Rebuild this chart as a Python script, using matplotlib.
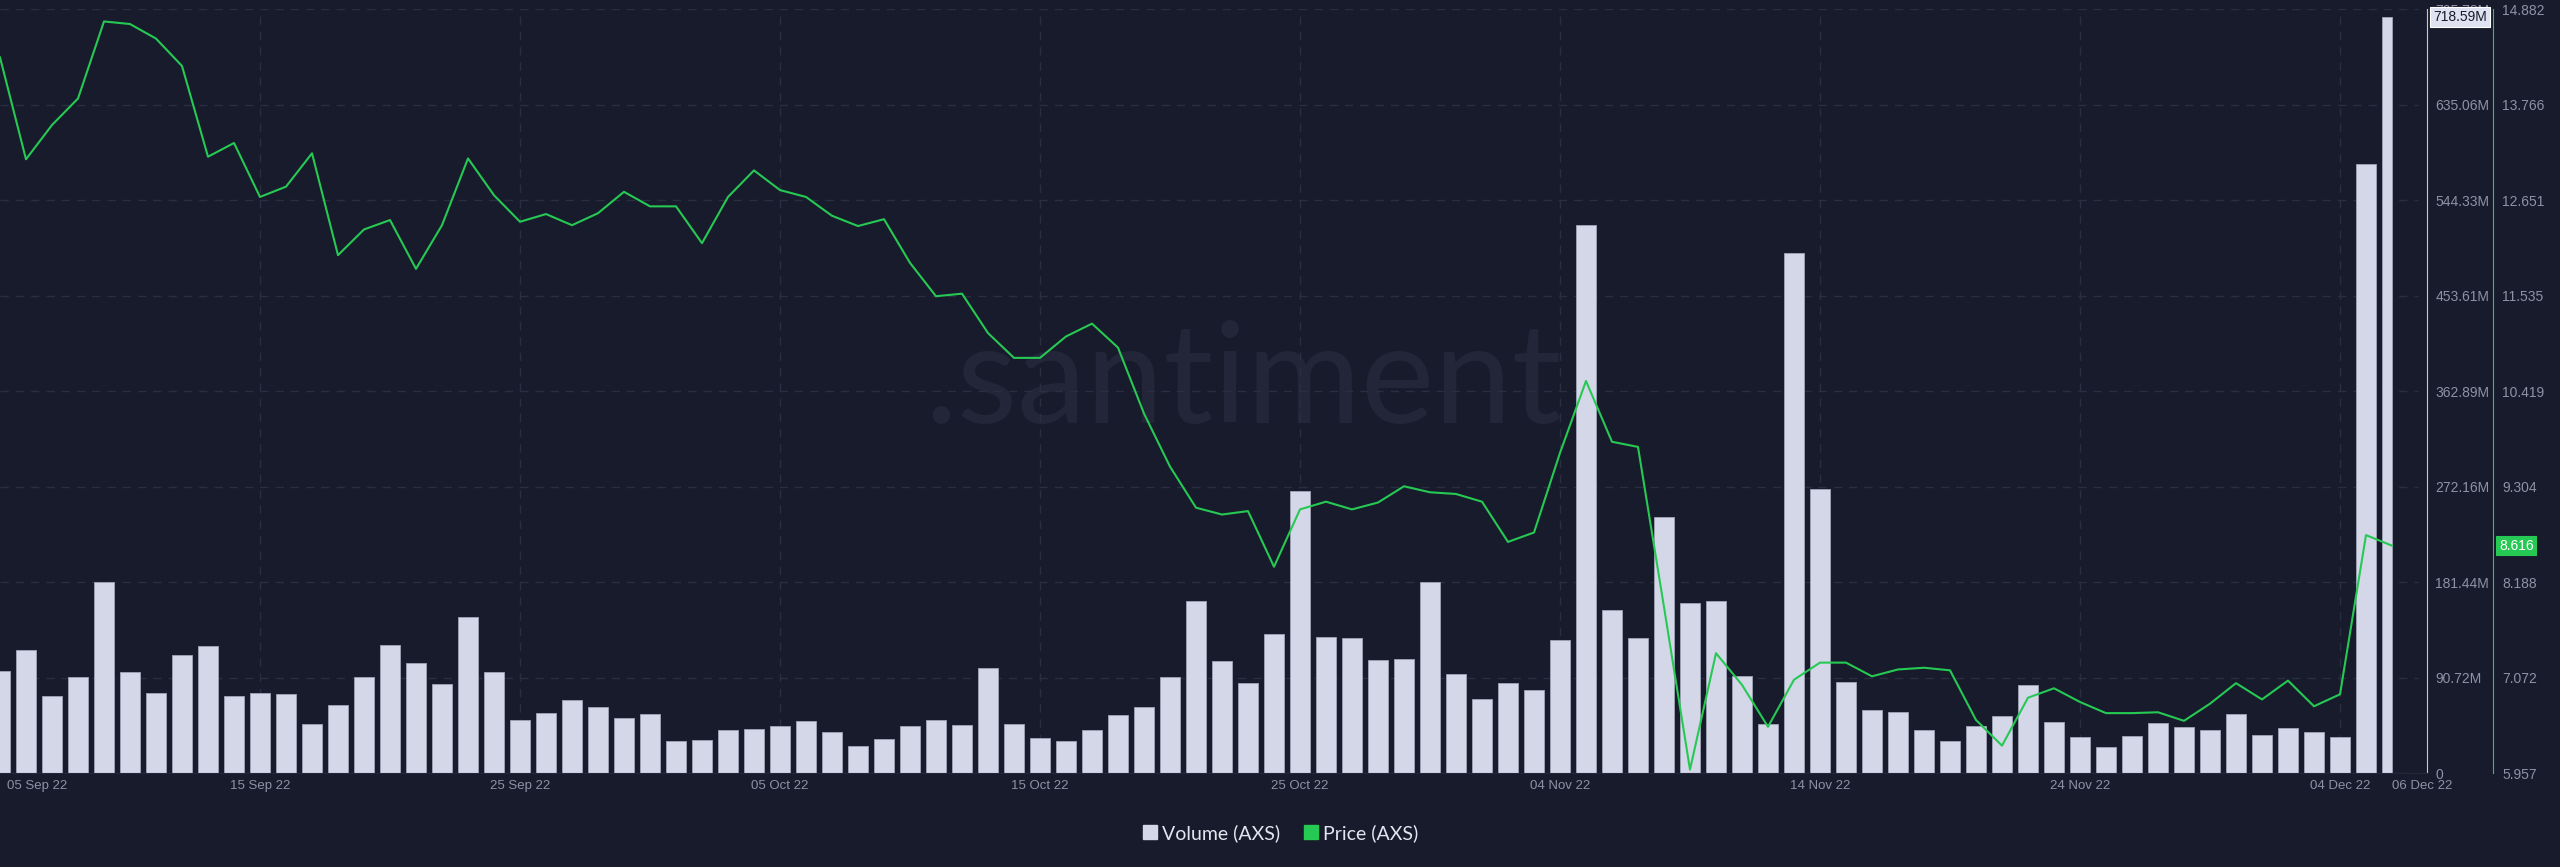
import numpy as np
import pandas as pd
import matplotlib.pyplot as plt
from matplotlib.lines import Line2D
from matplotlib import transforms

plt.rcParams['font.family'] = ['Liberation Sans', 'DejaVu Sans']

# === datos ===
dates = pd.date_range("2022-09-05", "2022-12-06", freq="D")

volume_m = [
    96.9, 117.5, 73.2, 91.8, 181.5, 96.0, 76.3, 112.1, 121.3, 73.8,
    76.3, 75.4, 46.9, 64.6, 91.2, 121.9, 105.1, 84.9, 148.5, 96.6,
    50.7, 57.3, 69.7, 63.0, 52.9, 56.1, 30.7, 31.7, 41.2, 42.4,
    45.0, 49.4, 39.3, 25.7, 32.3, 45.0, 51.0, 46.2, 100.4, 46.6,
    33.6, 31.0, 41.2, 55.4, 63.3, 91.2, 163.4, 106.7, 85.5, 132.4,
    268.2, 129.8, 128.9, 107.7, 108.6, 181.5, 94.4, 70.9, 86.1, 78.9,
    127.0, 520.6, 155.2, 128.6, 243.2, 162.2, 163.8, 92.2, 46.9, 494.0,
    270.2, 86.8, 60.5, 58.3, 40.9, 30.7, 45.3, 54.8, 83.9, 48.8,
    34.8, 25.3, 35.8, 47.8, 43.7, 41.5, 56.4, 36.7, 42.8, 39.6,
    34.8, 578.5, 718.59,
]

price = [
    14.32, 13.13, 13.53, 13.84, 14.74, 14.71, 14.54, 14.22, 13.16, 13.32,
    12.69, 12.81, 13.20, 12.01, 12.31, 12.42, 11.85, 12.36, 13.14, 12.71,
    12.40, 12.49, 12.36, 12.50, 12.75, 12.58, 12.58, 12.15, 12.69, 13.00,
    12.77, 12.69, 12.47, 12.35, 12.43, 11.92, 11.53, 11.56, 11.10, 10.81,
    10.81, 11.06, 11.21, 10.93, 10.16, 9.54, 9.06, 8.98, 9.02, 8.37,
    9.04, 9.13, 9.04, 9.12, 9.31, 9.24, 9.22, 9.13, 8.66, 8.77,
    9.70, 10.54, 9.83, 9.77, 7.90, 6.00, 7.36, 6.99, 6.50, 7.05,
    7.25, 7.25, 7.09, 7.17, 7.19, 7.16, 6.58, 6.28, 6.84, 6.95,
    6.79, 6.66, 6.66, 6.67, 6.57, 6.77, 7.01, 6.82, 7.04, 6.74,
    6.88, 8.74, 8.616,
]

vol_max = 725.78
price_min, price_max = 5.957, 14.882
vol_tick_labels = ["0", "90.72M", "181.44M", "272.16M", "362.89M",
                   "453.61M", "544.33M", "635.06M", "725.78M"]
price_tick_labels = ["5.957", "7.072", "8.188", "9.304", "10.419",
                     "11.535", "12.651", "13.766", "14.882"]
xtick_idx = [0, 10, 20, 30, 40, 50, 60, 70, 80, 90, 92]

# === estilo ===
BG = "#181b2b"
BAR = "#d4d7e8"
GREEN = "#26c953"
GRID = "#2a2e41"
TXT = "#8d92a6"

W, H = 2560, 867
fig = plt.figure(figsize=(W / 100, H / 100), dpi=100, facecolor=BG)
ax = fig.add_axes([0, (H - 773.3) / H, 2427 / W, 764 / H])
ax.set_facecolor(BG)
ax2 = ax.twinx()

x = np.arange(len(dates))
vol_ticks = np.linspace(0, vol_max, 9)
price_ticks = np.linspace(price_min, price_max, 9)

# marca de agua
ax.text(0.512, 0.4585, ".santiment", transform=ax.transAxes, ha="center",
        va="baseline", fontsize=100, color="#222638", family="Lato",
        zorder=0)

# grilla
ax.hlines(vol_ticks, 0, 93.0, colors=GRID, lw=1, linestyles=(0, (6, 5)), zorder=0.5)
ax.vlines(xtick_idx[1:-1], 0, vol_max, colors=GRID, lw=1, linestyles=(0, (6, 5)), zorder=0.5)

# barras de volumen
ax.bar(x[:-1], volume_m[:-1], width=0.76, color=BAR, edgecolor="#a2a5b8", lw=0.6, zorder=2)
ax.bar(x[-1] - 0.38, volume_m[-1], width=0.38, align="edge", color=BAR,
       edgecolor="#a2a5b8", lw=0.6, zorder=2)

ax.set_xlim(0, 2427 / 26)
ax.set_ylim(0, vol_max)

for s in ["top", "left"]:
    ax.spines[s].set_visible(False)
ax.spines["bottom"].set_color("#23273a")
ax.spines["right"].set_color("#c5c8d6")

ax.set_yticks(vol_ticks)
ax.set_yticklabels(vol_tick_labels)
ax.yaxis.set_ticks_position("right")
ax.tick_params(axis="y", left=False, labelleft=False, right=True, labelright=True,
               length=0, pad=6, labelsize=10, labelcolor=TXT)

ax.set_xticks(xtick_idx)
ax.set_xticklabels([dates[i].strftime("%d %b %y") for i in xtick_idx])
ax.tick_params(axis="x", length=0, pad=5, labelsize=9.5, labelcolor=TXT)
lbls = ax.get_xticklabels()
lbls[0].set_ha("left")
lbls[0].set_transform(lbls[0].get_transform() +
                      transforms.ScaledTranslation(0.07, 0, fig.dpi_scale_trans))
lbls[-1].set_ha("left")

# precio
ax2.plot(x, price, color=GREEN, lw=1.5, zorder=3)
ax2.set_ylim(price_min, price_max)
ax2.set_yticks(price_ticks)
ax2.set_yticklabels(price_tick_labels)
ax2.tick_params(axis="y", length=0, pad=6.5, labelsize=10, labelcolor=TXT)
for s in ["top", "left", "bottom"]:
    ax2.spines[s].set_visible(False)
ax2.spines["right"].set_position(("axes", 2493 / 2427))
ax2.spines["right"].set_color(GREEN)

# etiquetas del último valor
tr1 = transforms.blended_transform_factory(ax.transAxes, ax.transData)
ax2.text(2433 / 2427, volume_m[-1] / vol_max, "718.59M",
         transform=transforms.blended_transform_factory(ax2.transAxes, ax.transAxes),
         ha="left", va="center", fontsize=10, color="#181b2b", zorder=10, clip_on=False,
         bbox=dict(boxstyle="square,pad=0.2", fc="#dfe2f0", ec="#ffffff", lw=0.8))
tr2 = transforms.blended_transform_factory(ax2.transAxes, ax2.transData)
ax2.text(2499 / 2427, price[-1], "8.616", transform=tr2, ha="left", va="center",
         fontsize=10, color="white", zorder=10, clip_on=False,
         bbox=dict(boxstyle="square,pad=0.2", fc=GREEN, ec=GREEN, lw=0.8))

# leyenda
handles = [Line2D([], [], marker="s", ls="", color=BAR, markersize=10),
           Line2D([], [], marker="s", ls="", color=GREEN, markersize=10)]
fig.legend(handles, ["Volume (AXS)", "Price (AXS)"], loc="center",
           bbox_to_anchor=(1280 / W, 34 / H), ncol=2, frameon=False,
           prop={"family": "Lato", "size": 14}, labelcolor="#e3e5f0",
           handletextpad=0.2, columnspacing=1.2, handlelength=0.8)

fig.savefig("out.png", dpi=100, facecolor=BG)
